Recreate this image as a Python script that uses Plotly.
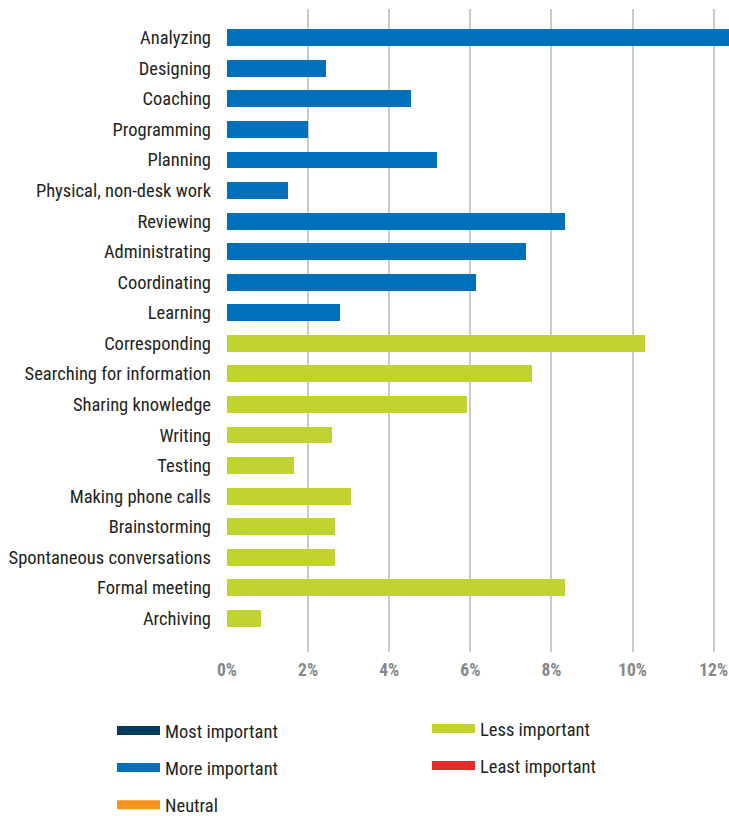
import plotly.graph_objects as go

# Share of time spent per activity, in percent
activities = [
    "Analyzing", "Designing", "Coaching", "Programming", "Planning",
    "Physical, non-desk work", "Reviewing", "Administrating", "Coordinating",
    "Learning", "Corresponding", "Searching for information",
    "Sharing knowledge", "Writing", "Testing", "Making phone calls",
    "Brainstorming", "Spontaneous conversations", "Formal meeting", "Archiving",
]
more_important = [12.6, 2.43, 4.53, 2.0, 5.17, 1.51, 8.33, 7.37, 6.13, 2.78,
                  None, None, None, None, None, None, None, None, None, None]
less_important = [None, None, None, None, None, None, None, None, None, None,
                  10.30, 7.52, 5.91, 2.58, 1.65, 3.05, 2.66, 2.66, 8.33, 0.83]

levels = ["Most important", "More important", "Neutral", "Less important", "Least important"]
level_colors = {
    "Most important": "#003b5c",
    "More important": "#0070ba",
    "Neutral": "#f7941e",
    "Less important": "#c1d32f",
    "Least important": "#e52b2b",
}
x_ticks = [0, 2, 4, 6, 8, 10, 12]
x_tick_labels = [f"{v}%" for v in x_ticks]

FONT = "Roboto Condensed, Liberation Sans Narrow, sans-serif"
TEXT = "#231f20"

fig = go.Figure()

fig.add_trace(go.Bar(
    y=activities, x=more_important, orientation="h",
    marker=dict(color=level_colors["More important"], line_width=0),
    name="More important", showlegend=False,
))
fig.add_trace(go.Bar(
    y=activities, x=less_important, orientation="h",
    marker=dict(color=level_colors["Less important"], line_width=0),
    name="Less important", showlegend=False,
))

# Legend entries drawn as wide line swatches, split into two columns
for i, lvl in enumerate(levels):
    fig.add_trace(go.Scatter(
        x=[None], y=[None], mode="lines",
        line=dict(color=level_colors[lvl], width=9),
        name=lvl, legendgroup=lvl, hoverinfo="skip",
        legend="legend" if i < 3 else "legend2",
    ))

legend_common = dict(
    font=dict(family=FONT, size=18.5, color=TEXT),
    bgcolor="rgba(0,0,0,0)",
    traceorder="grouped",
    tracegroupgap=10,
    xref="container", yref="container",
    xanchor="left", yanchor="top",
    itemwidth=43,
)

fig.update_layout(
    width=729, height=816,
    margin=dict(l=227, r=0, t=9, b=164, autoexpand=False),
    paper_bgcolor="white", plot_bgcolor="white",
    barmode="stack",
    bargap=0.45,
    font=dict(family=FONT, size=18.5, color=TEXT),
    xaxis=dict(
        range=[0, 12.378], tickmode="array",
        tickvals=x_ticks, ticktext=x_tick_labels,
        showgrid=True, gridcolor="#cacaca", gridwidth=1.5,
        zeroline=False, showline=False, ticks="",
        ticklabelstandoff=5,
        tickfont=dict(family=FONT, size=17.5, color="#85878a", weight="bold"),
        fixedrange=True,
    ),
    yaxis=dict(
        type="category", categoryarray=activities, categoryorder="array",
        range=[20.1, -0.94], autorange=False,
        showgrid=False, zeroline=False, showline=False, ticks="",
        ticklabelstandoff=15,
        tickfont=dict(family=FONT, size=18.5, color=TEXT),
        fixedrange=True,
    ),
    legend=dict(x=112 / 729, y=1 - 712 / 816, **legend_common),
    legend2=dict(x=427 / 729, y=1 - 710 / 816, **legend_common),
)

fig.write_html("out.html")
